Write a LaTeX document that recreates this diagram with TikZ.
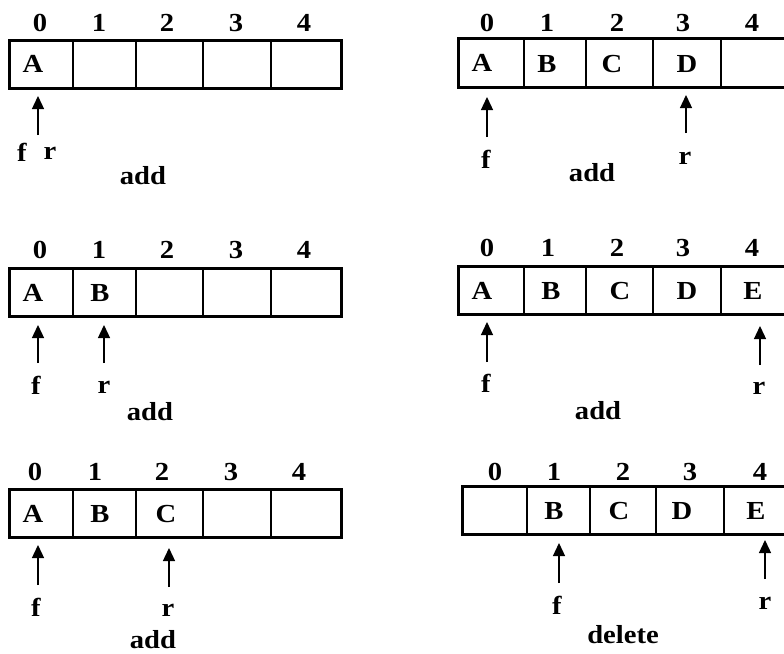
\documentclass[tikz,border=0pt]{standalone}
\usepackage{fontspec}
\setmainfont{Liberation Serif}[FakeStretch=1.1]
\usetikzlibrary{arrows.meta}
\tikzset{
  txt/.style={font=\fontsize{26}{28}\selectfont\bfseries, inner sep=0pt, anchor=center},
  idx/.style={txt},
  outer/.style={line width=3pt, line join=miter},
  divider/.style={line width=1.3pt},
  ptr/.style={line width=1.3pt, -{Triangle[width=12pt,length=13pt]}},
}
\begin{document}
\begin{tikzpicture}[x=1pt,y=-1pt]
\useasboundingbox (0,0) rectangle (784,653);
\clip (0,0) rectangle (784,653);
% ---------- panel 1 (top-left)
\draw[outer] (9,40) rectangle (341,88);
\foreach \x in {73,136,203,271} \draw[divider] (\x,40) -- (\x,88);
\node[idx] (p1i0) at (40,23) {0};
\node[idx] (p1i1) at (99,23) {1};
\node[idx] (p1i2) at (167,23) {2};
\node[idx] (p1i3) at (236,23) {3};
\node[idx] (p1i4) at (304,23) {4};
\node[txt] (p1A) at (33,64) {A};
\coordinate (p1ft) at (38,135);
\coordinate (p1fh) at (38,96);
\draw[ptr] (p1ft) -- (p1fh);
\node[txt] (p1f) at (22,152) {f};
\node[txt] (p1r) at (50,153) {r};
\node[txt] (p1op) at (143,176) {add};
% ---------- panel 2 (top-right)
\draw[outer] (458,38) rectangle (800,87);
\foreach \x in {524,586,653,721} \draw[divider] (\x,38) -- (\x,87);
\node[idx] (p2i0) at (487,23) {0};
\node[idx] (p2i1) at (547,23) {1};
\node[idx] (p2i2) at (617,23) {2};
\node[idx] (p2i3) at (683,23) {3};
\node[idx] (p2i4) at (752,23) {4};
\node[txt] (p2A) at (482,63) {A};
\node[txt] (p2B) at (547,64) {B};
\node[txt] (p2C) at (612,64) {C};
\node[txt] (p2D) at (687,64) {D};
\coordinate (p2ft) at (487,137);
\coordinate (p2fh) at (487,97);
\draw[ptr] (p2ft) -- (p2fh);
\coordinate (p2rt) at (686,133);
\coordinate (p2rh) at (686,95);
\draw[ptr] (p2rt) -- (p2rh);
\node[txt] (p2f) at (486,159) {f};
\node[txt] (p2r) at (685,158) {r};
\node[txt] (p2op) at (592,173) {add};
% ---------- panel 3 (middle-left)
\draw[outer] (9,268) rectangle (341,316);
\foreach \x in {73,136,203,271} \draw[divider] (\x,268) -- (\x,316);
\node[idx] (p3i0) at (40,250) {0};
\node[idx] (p3i1) at (99,250) {1};
\node[idx] (p3i2) at (167,250) {2};
\node[idx] (p3i3) at (236,250) {3};
\node[idx] (p3i4) at (304,250) {4};
\node[txt] (p3A) at (33,293) {A};
\node[txt] (p3B) at (100,293) {B};
\coordinate (p3ft) at (38,363);
\coordinate (p3fh) at (38,325);
\draw[ptr] (p3ft) -- (p3fh);
\coordinate (p3rt) at (104,363);
\coordinate (p3rh) at (104,325);
\draw[ptr] (p3rt) -- (p3rh);
\node[txt] (p3f) at (36,385) {f};
\node[txt] (p3r) at (104,387) {r};
\node[txt] (p3op) at (150,412) {add};
% ---------- panel 4 (middle-right)
\draw[outer] (458,266) rectangle (800,314);
\foreach \x in {524,586,653,721} \draw[divider] (\x,266) -- (\x,314);
\node[idx] (p4i0) at (487,248) {0};
\node[idx] (p4i1) at (548,248) {1};
\node[idx] (p4i2) at (617,248) {2};
\node[idx] (p4i3) at (683,248) {3};
\node[idx] (p4i4) at (752,248) {4};
\node[txt] (p4A) at (482,291) {A};
\node[txt] (p4B) at (551,291) {B};
\node[txt] (p4C) at (620,291) {C};
\node[txt] (p4D) at (687,291) {D};
\node[txt] (p4E) at (753,291) {E};
\coordinate (p4ft) at (487,362);
\coordinate (p4fh) at (487,322);
\draw[ptr] (p4ft) -- (p4fh);
\coordinate (p4rt) at (760,365);
\coordinate (p4rh) at (760,326);
\draw[ptr] (p4rt) -- (p4rh);
\node[txt] (p4f) at (486,383) {f};
\node[txt] (p4r) at (759,388) {r};
\node[txt] (p4op) at (598,411) {add};
% ---------- panel 5 (bottom-left)
\draw[outer] (9,489) rectangle (341,537);
\foreach \x in {73,136,203,271} \draw[divider] (\x,489) -- (\x,537);
\node[idx] (p5i0) at (35,472) {0};
\node[idx] (p5i1) at (95,472) {1};
\node[idx] (p5i2) at (162,472) {2};
\node[idx] (p5i3) at (231,472) {3};
\node[idx] (p5i4) at (299,472) {4};
\node[txt] (p5A) at (33,514) {A};
\node[txt] (p5B) at (100,514) {B};
\node[txt] (p5C) at (166,514) {C};
\coordinate (p5ft) at (38,585);
\coordinate (p5fh) at (38,545);
\draw[ptr] (p5ft) -- (p5fh);
\coordinate (p5rt) at (169,587);
\coordinate (p5rh) at (169,548);
\draw[ptr] (p5rt) -- (p5rh);
\node[txt] (p5f) at (36,607) {f};
\node[txt] (p5r) at (168,610) {r};
\node[txt] (p5op) at (153,640) {add};
% ---------- panel 6 (bottom-right)
\draw[outer] (462,486) rectangle (800,534);
\foreach \x in {527,590,656,724} \draw[divider] (\x,486) -- (\x,534);
\node[idx] (p6i0) at (495,472) {0};
\node[idx] (p6i1) at (554,472) {1};
\node[idx] (p6i2) at (623,472) {2};
\node[idx] (p6i3) at (690,472) {3};
\node[idx] (p6i4) at (760,472) {4};
\node[txt] (p6B) at (554,511) {B};
\node[txt] (p6C) at (619,511) {C};
\node[txt] (p6D) at (682,511) {D};
\node[txt] (p6E) at (756,511) {E};
\coordinate (p6ft) at (559,583);
\coordinate (p6fh) at (559,543);
\draw[ptr] (p6ft) -- (p6fh);
\coordinate (p6rt) at (765,579);
\coordinate (p6rh) at (765,540);
\draw[ptr] (p6rt) -- (p6rh);
\node[txt] (p6f) at (557,605) {f};
\node[txt] (p6r) at (765,603) {r};
\node[txt] (p6op) at (623,635) {delete};
\end{tikzpicture}
\end{document}
